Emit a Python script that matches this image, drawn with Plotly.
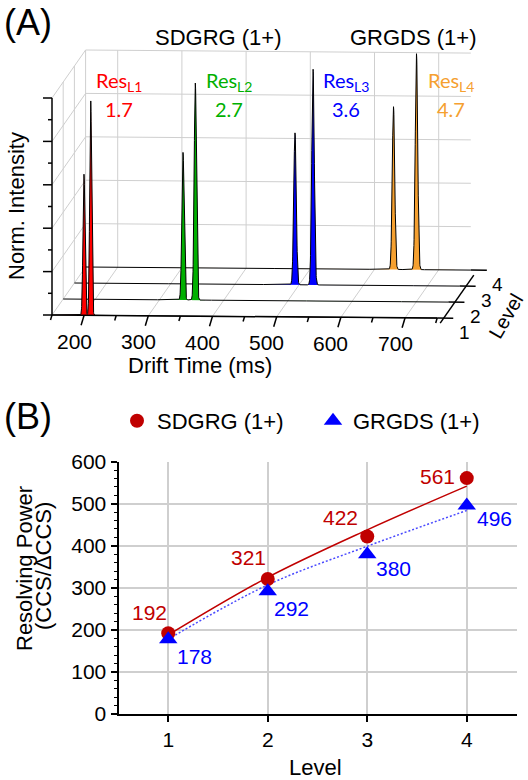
import numpy as np
import plotly.graph_objects as go

W, H = 528, 780

# ---------------- Panel A data ----------------
levels = [1, 2, 3, 4]
level_colors = ["#FF0000", "#00B000", "#0000FF", "#F5A030"]
sdgrg_peak_time = [199.8, 336.6, 493.6, 629.6]      # ms
grgds_peak_time = [210.3, 355.8, 521.7, 665.4]      # ms
sdgrg_peak_height = [0.65, 0.68, 0.70, 0.75]
grgds_peak_height = [0.99, 1.00, 0.995, 0.995]
peak_fwhm = [3.6, 4.2, 4.6, 4.5]                    # ms
res_values = ["1.7", "2.7", "3.6", "4.7"]
res_names = ["L1", "L2", "L3", "L4"]
drift_ticks = [200, 300, 400, 500, 600, 700]
drift_minor = [150, 250, 350, 450, 550, 650, 750]
intensity_ticks = [0, 0.2, 0.4, 0.6, 0.8, 1.0]
intensity_minor = [0.1, 0.3, 0.5, 0.7, 0.9]
drift_range = [150, 750]

# ---------------- Panel B data ----------------
level_x = [1, 2, 3, 4]
sdgrg_rp = [192, 321, 422, 561]
grgds_rp = [178, 292, 380, 496]
sdgrg_fit = [188, 325, 438, 542]
grgds_fit = [178, 307, 399, 484]

# ---------------- styles / layout constants ----------------
RED_B = "#C00000"
BLUE_B = "#0000FF"
GRID = "#CFCFCF"
FONT = "Liberation Sans, Arial, sans-serif"
FONT_RES = "Lato, Open Sans, sans-serif"

# oblique projection for panel A (pixel space)
X0, Y0 = 52.0, 315.0
SX, SZ = 0.642, 217.0
DX, DY = 11.2, -16.0
TILT = 0.008


def proj(t, l, z):
    t = np.asarray(t, dtype=float)
    z = np.asarray(z, dtype=float)
    px = X0 + (t - drift_range[0]) * SX + (l - 1) * DX
    py = Y0 - z * SZ + (l - 1) * DY + (t - drift_range[0]) * SX * TILT
    return px, py


def paper(px, py):
    return px / W, 1 - py / H


fig = go.Figure()

# ---- grid (gray) ----
gx, gy = [], []


def seg(xs, ys, p, q):
    xs.extend([float(p[0]), float(q[0]), None])
    ys.extend([float(p[1]), float(q[1]), None])


tmin, tmax = drift_range
lmin, lmax = levels[0], levels[-1]
for t in drift_ticks:
    seg(gx, gy, proj(t, lmax, 0), proj(t, lmax, 1))
    seg(gx, gy, proj(t, lmin, 0), proj(t, lmax, 0))
for z in intensity_ticks[1:]:
    seg(gx, gy, proj(tmin, lmax, z), proj(tmax, lmax, z))
for l in levels[1:]:
    seg(gx, gy, proj(tmin, l, 0), proj(tmin, l, 1))
for z in intensity_ticks:
    seg(gx, gy, proj(tmin, lmin, z), proj(tmin, lmax, z))

fig.add_trace(go.Scatter(x=gx, y=gy, mode="lines", line=dict(color=GRID, width=1),
                         hoverinfo="skip", showlegend=False, xaxis="x", yaxis="y"))

# ---- traces, back to front ----
t_grid = np.arange(tmin, tmax + 0.001, 0.2)
for i in reversed(range(len(levels))):
    l = levels[i]
    s = peak_fwhm[i] / 2.3548
    z = (sdgrg_peak_height[i] * np.exp(-0.5 * ((t_grid - sdgrg_peak_time[i]) / s) ** 2)
         + grgds_peak_height[i] * np.exp(-0.5 * ((t_grid - grgds_peak_time[i]) / s) ** 2))
    px, py = proj(t_grid, l, z)
    fig.add_trace(go.Scatter(x=px, y=py, mode="lines", fill="toself",
                             fillcolor=level_colors[i], line=dict(color="black", width=1),
                             hoverinfo="skip", showlegend=False, xaxis="x", yaxis="y"))

# ---- black axes for panel A ----
ax_x, ax_y = [], []
seg(ax_x, ax_y, proj(tmin, lmin, 0), proj(tmin, lmin, 1))
for z in intensity_ticks:
    p = proj(tmin, lmin, z)
    seg(ax_x, ax_y, p, (p[0] - 9, p[1]))
for z in intensity_minor:
    p = proj(tmin, lmin, z)
    seg(ax_x, ax_y, p, (p[0] - 4, p[1]))
seg(ax_x, ax_y, proj(tmin, lmin, 0), proj(tmax, lmin, 0))
for t in drift_ticks:
    p = proj(t, lmin, 0)
    seg(ax_x, ax_y, p, (p[0] - 3, p[1] + 10))
for t in drift_minor:
    p = proj(t, lmin, 0)
    seg(ax_x, ax_y, p, (p[0] - 1.5, p[1] + 5))
# level axis (offset from floor edge)
OFF = (3.0, 5.0)
pa = proj(tmax, lmin, 0)
pb = proj(tmax, lmax, 0)
seg(ax_x, ax_y, (pa[0] + OFF[0], pa[1] + OFF[1]), (pb[0] + OFF[0], pb[1] + OFF[1]))
for l in levels:
    seg(ax_x, ax_y, proj(tmax, l, 0), proj(tmax + 25, l, 0))

fig.add_trace(go.Scatter(x=ax_x, y=ax_y, mode="lines", line=dict(color="black", width=1.5),
                         hoverinfo="skip", showlegend=False, xaxis="x", yaxis="y"))

annotations = []


def ann(text, px, py, size, color="black", family=FONT, angle=0, xanchor="center", yanchor="middle"):
    xp, yp = paper(px, py)
    annotations.append(dict(text=text, x=xp, y=yp, xref="paper", yref="paper", showarrow=False,
                            font=dict(size=size, color=color, family=family), textangle=angle,
                            xanchor=xanchor, yanchor=yanchor))


# drift-time tick labels
for t in drift_ticks:
    p = proj(t, lmin, 0)
    ann(str(t), float(p[0]) - 10, float(p[1]) + 26, 21)
# level tick labels
for l in levels:
    p = proj(tmax, l, 0)
    ann(str(l), float(p[0]) + 27, float(p[1]) + 14, 19)

ann("Drift Time (ms)", 200, 365, 22)
ann("Norm. Intensity", 17, 206, 22, angle=-90)
ann("Level", 506, 316, 20, angle=-60)
ann("SDGRG (1+)", 218, 37, 22)
ann("GRGDS (1+)", 413.5, 37, 22)
ann("(A)", 28, 22, 36)
ann("(B)", 28, 416, 36)

res_x = [119, 229, 346, 451]
for i in range(4):
    ann("Res<sub>%s</sub>" % res_names[i], res_x[i], 82, 20, color=level_colors[i], family=FONT_RES)
    ann(res_values[i], res_x[i], 109, 20, color=level_colors[i], family=FONT_RES)

# ---------------- Panel B ----------------
fig.add_trace(go.Scatter(x=level_x, y=sdgrg_fit, mode="lines", line=dict(color=RED_B, width=1.5, shape="spline"),
                         hoverinfo="skip", showlegend=False, xaxis="x2", yaxis="y2"))
fig.add_trace(go.Scatter(x=level_x, y=grgds_fit, mode="lines",
                         line=dict(color="#4A4AFF", width=1.5, dash="2px,2px", shape="spline"),
                         hoverinfo="skip", showlegend=False, xaxis="x2", yaxis="y2"))
fig.add_trace(go.Scatter(x=level_x, y=sdgrg_rp, mode="markers", name="SDGRG (1+)", legend="legend",
                         marker=dict(symbol="circle", size=14, color=RED_B), xaxis="x2", yaxis="y2"))
fig.add_trace(go.Scatter(x=level_x, y=grgds_rp, mode="markers", name="GRGDS (1+)", legend="legend2",
                         marker=dict(symbol="triangle-up", size=16, color=BLUE_B), xaxis="x2", yaxis="y2"))

sdgrg_shift = [(-19, 21), (-19.5, 21.5), (-27, 19.5), (-29, 1.5)]
grgds_shift = [(26.5, -17.5), (24, -17.7), (26, -14.7), (27.5, -13.5)]
for i in range(4):
    annotations.append(dict(text=str(sdgrg_rp[i]), x=level_x[i], y=sdgrg_rp[i], xref="x2", yref="y2",
                            xshift=sdgrg_shift[i][0], yshift=sdgrg_shift[i][1], showarrow=False,
                            font=dict(size=21, color=RED_B, family=FONT)))
    annotations.append(dict(text=str(grgds_rp[i]), x=level_x[i], y=grgds_rp[i], xref="x2", yref="y2",
                            xshift=grgds_shift[i][0], yshift=grgds_shift[i][1], showarrow=False,
                            font=dict(size=21, color=BLUE_B, family=FONT)))

ann("Level", 315, 767, 22)
ann("Resolving Power", 24, 569, 22, angle=-90)
ann("(CCS/ΔCCS)", 43, 566, 22, angle=-90)

B_left, B_right, B_top, B_bottom = 118.5, 516.5, 461.7, 714.0

legend_style = dict(orientation="h", xanchor="left", yanchor="middle",
                    font=dict(size=22, family=FONT), bgcolor="rgba(0,0,0,0)", itemclick=False)

fig.update_layout(
    width=W, height=H,
    margin=dict(l=0, r=0, t=0, b=0, pad=0, autoexpand=False),
    paper_bgcolor="white", plot_bgcolor="white",
    font=dict(family=FONT, size=21, color="black"),
    xaxis=dict(domain=[0, 1], range=[0, W], visible=False, fixedrange=True),
    yaxis=dict(domain=[1 - 372 / H, 1], range=[372, 0], visible=False, fixedrange=True),
    xaxis2=dict(domain=[B_left / W, B_right / W], range=[0.5, 4.5], anchor="y2",
                tickvals=level_x, showgrid=True, gridcolor=GRID, gridwidth=1.5,
                showline=True, linecolor="black", linewidth=2, ticks="outside", ticklen=6,
                tickwidth=1.5, tickcolor="black", zeroline=False, automargin=False,
                tickfont=dict(size=21, family=FONT)),
    yaxis2=dict(domain=[1 - B_bottom / H, 1 - B_top / H], range=[0, 600], anchor="x2",
                dtick=100, showgrid=True, gridcolor=GRID, gridwidth=1.5,
                showline=True, linecolor="black", linewidth=2, ticks="outside", ticklen=6,
                tickwidth=1.5, tickcolor="black", zeroline=False, automargin=False,
                minor=dict(dtick=20, ticks="outside", ticklen=3, tickwidth=1.2, tickcolor="black", showgrid=False),
                tickfont=dict(size=21, family=FONT)),
    showlegend=True,
    legend=dict(x=117 / W, y=1 - 421 / H, **legend_style),
    legend2=dict(x=313 / W, y=1 - 421 / H, **legend_style),
    annotations=annotations,
)

fig.write_html("out.html", config={"displayModeBar": False},
               post_script="document.body.style.margin='0';document.body.style.overflow='hidden';")
